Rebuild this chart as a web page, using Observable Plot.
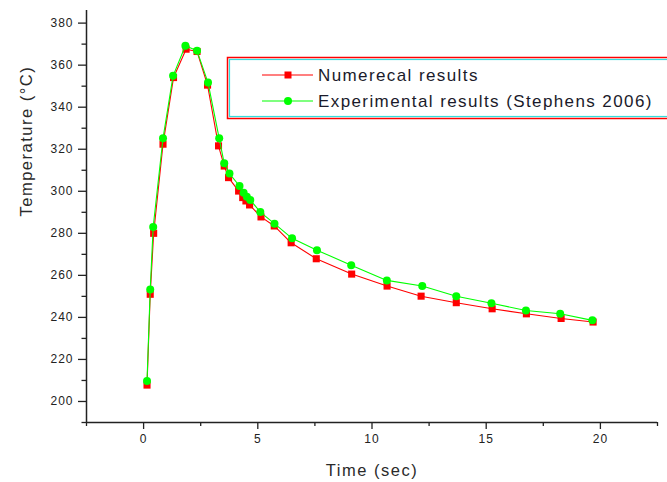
<!DOCTYPE html>
<html><head><meta charset="utf-8">
<script src="https://cdn.jsdelivr.net/npm/d3@7"></script>
<script src="https://cdn.jsdelivr.net/npm/@observablehq/plot@0.6"></script>
<style>
body{margin:0;background:#fff;}
svg{font-family:"Liberation Sans",Arial,sans-serif;}
</style>
</head><body><div id="chart"></div>
<script>
const seriesNames = ["Numerecal results", "Experimental results (Stephens 2006)"];
const timeNum = [0.15,0.29,0.44,0.85,1.31,1.86,2.34,2.80,3.28,3.53,3.72,4.16,4.34,4.48,4.64,5.14,5.72,6.46,7.56,9.11,10.66,12.15,13.69,15.26,16.76,18.28,19.68];
const numerical = [207.8,251.0,280.0,322.4,354.1,367.6,366.5,350.5,321.6,312.0,306.5,300.1,297.0,295.4,293.5,287.8,283.5,275.5,267.9,260.6,254.9,250.1,247.0,244.1,241.7,239.5,237.8];
const timeExp = [0.15,0.29,0.42,0.85,1.29,1.83,2.34,2.82,3.31,3.53,3.76,4.20,4.38,4.52,4.67,5.11,5.73,6.50,7.59,9.09,10.65,12.20,13.69,15.23,16.74,18.24,19.65];
const experimental = [209.7,253.3,283.0,325.2,354.9,369.2,366.8,351.7,325.2,313.3,308.4,302.5,299.3,297.4,295.9,290.1,284.6,277.6,272.0,264.8,257.6,254.9,250.1,246.7,243.3,241.7,238.6];
const xTicks = [0,5,10,15,20];
const xMinor = [-2.5,2.5,7.5,12.5,17.5,22.5];
const yTicks = [200,220,240,260,280,300,320,340,360,380];
const yMinor = [190,210,230,250,270,290,310,330,350,370];
const xLabel = "Time (sec)";
const yLabel = "Temperature (°C)";

const rowsNum = timeNum.map((t,i)=>({t, T: numerical[i]}));
const rowsExp = timeExp.map((t,i)=>({t, T: experimental[i]}));

const chart = Plot.plot({
  width: 667, height: 482,
  marginLeft: 86, marginRight: 10, marginTop: 10, marginBottom: 60,
  style: {fontFamily: '"Liberation Sans", Arial, sans-serif', fontSize: "12px", color: "#222", background: "#fff", overflow: "visible"},
  x: {domain: [-2.5, 22.5]},
  y: {domain: [190, 386]},
  marks: [
    Plot.axisX({ticks: xTicks, tickSize: 7, tickPadding: 5, label: null, fontSize: 12, strokeWidth: 1.3}),
    Plot.axisX({ticks: xMinor, tickSize: 4, text: null, label: null, strokeWidth: 1.3}),
    Plot.axisY({ticks: yTicks, tickSize: 8, tickPadding: 5, label: null, fontSize: 12, strokeWidth: 1.3}),
    Plot.axisY({ticks: yMinor, tickSize: 4.5, text: null, label: null, strokeWidth: 1.3}),
    Plot.ruleX([-2.5], {stroke: "#222", strokeWidth: 1.5}),
    Plot.ruleY([190], {stroke: "#222", strokeWidth: 1.5}),
    Plot.line(rowsNum, {x: "t", y: "T", stroke: "#ff0000", strokeWidth: 1.1}),
    Plot.dot(rowsNum, {x: "t", y: "T", symbol: "square", r: 4, fill: "#ff0000", stroke: "none"}),
    Plot.line(rowsExp, {x: "t", y: "T", stroke: "#00ff00", strokeWidth: 1.1}),
    Plot.dot(rowsExp, {x: "t", y: "T", symbol: "circle", r: 4, fill: "#00ff00", stroke: "none"}),
    Plot.text([xLabel], {frameAnchor: "bottom", dy: 48, fontSize: 16.5, fill: "#2a2a2a", lineAnchor: "middle"}),
    Plot.text([yLabel], {frameAnchor: "left", dx: -60, rotate: -90, fontSize: 16.5, fill: "#2a2a2a", lineAnchor: "middle"})
  ]
});

const svg = d3.select(chart);
svg.selectAll("text").each(function(){
  const s = d3.select(this);
  const txt = s.text();
  if (txt === xLabel || txt === yLabel) s.style("letter-spacing", "1.5px");
  else s.style("letter-spacing", "1px");
});

// legend
const lg = svg.append("g").attr("text-anchor", "start");
lg.append("rect").attr("x",227.5).attr("y",57.5).attr("width",460).attr("height",61)
  .attr("fill","#fff").attr("stroke","#ff0000").attr("stroke-width",1.5);
lg.append("rect").attr("x",229.5).attr("y",59.5).attr("width",460).attr("height",57)
  .attr("fill","none").attr("stroke","#33dddd").attr("stroke-width",1.2);
const legendItems = [
  {name: seriesNames[0], color: "#ff0000", shape: "square", y: 75},
  {name: seriesNames[1], color: "#00ff00", shape: "circle", y: 101}
];
legendItems.forEach(d => {
  lg.append("line").attr("x1",262).attr("x2",313).attr("y1",d.y).attr("y2",d.y)
    .attr("stroke",d.color).attr("stroke-width",1.2);
  if (d.shape === "square") {
    lg.append("rect").attr("x",284.5).attr("y",d.y-3.5).attr("width",7).attr("height",7).attr("fill",d.color);
  } else {
    lg.append("circle").attr("cx",288).attr("cy",d.y).attr("r",4).attr("fill",d.color);
  }
  lg.append("text").attr("x",318).attr("y",d.y).attr("dy","0.36em").attr("text-anchor","start")
    .attr("font-size",17).attr("fill","#1a1a2a").style("letter-spacing","1.4px").text(d.name);
});

document.getElementById("chart").appendChild(chart);
</script>
</body></html>
